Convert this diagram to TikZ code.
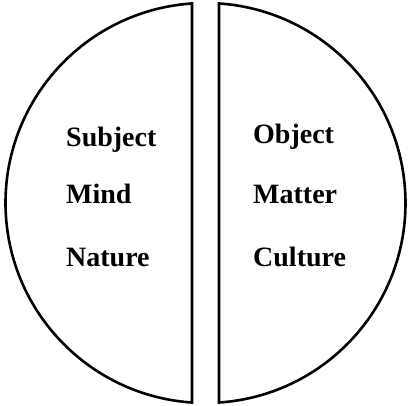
\documentclass[tikz,border=0pt]{standalone}
\usepackage{fontspec}
\setmainfont{Liberation Serif}

\begin{document}
\begin{tikzpicture}[x=1pt, y=1pt,
    word/.style={anchor=base west, inner sep=0pt, font=\fontsize{28}{30}\selectfont\bfseries}]
    % --- PARAMETERS ---
    \pgfmathsetmacro{\circR}{200}      % radius of the whole circle
    \pgfmathsetmacro{\halfGap}{13.5}   % half of the white strip in the middle
    \pgfmathsetmacro{\leftX}{-139.5}   % left column of words
    \pgfmathsetmacro{\rightX}{47.5}    % right column of words

    % --- COMPUTED ---
    \pgfmathsetmacro{\cutAngle}{acos(\halfGap/\circR)}

    % canvas
    \useasboundingbox (-205.5,-203) rectangle (203.5,203);

    % left half
    \draw[line width=2.6pt, line join=miter]
        (180-\cutAngle:\circR) arc[start angle=180-\cutAngle, end angle=180+\cutAngle, radius=\circR] -- cycle;

    % right half
    \draw[line width=2.6pt, line join=miter]
        (-\cutAngle:\circR) arc[start angle=-\cutAngle, end angle=\cutAngle, radius=\circR] -- cycle;

    % words on the left
    \node[word] (subject) at (\leftX, 56) {Subject};
    \node[word] (mind)    at (\leftX, -1) {Mind};
    \node[word] (nature)  at (\leftX, -64) {Nature};

    % words on the right
    \node[word] (object)  at (\rightX, 59) {Object};
    \node[word] (matter)  at (\rightX, -1) {Matter};
    \node[word] (culture) at (\rightX, -64) {Culture};
\end{tikzpicture}
\end{document}
